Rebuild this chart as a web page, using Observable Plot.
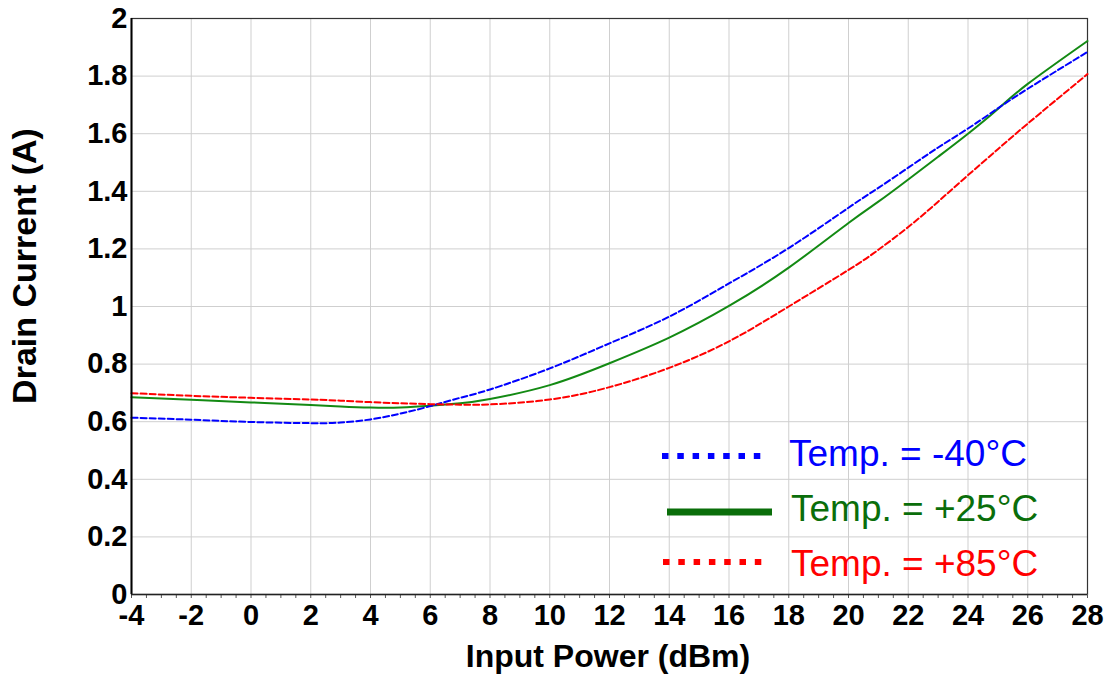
<!DOCTYPE html>
<html>
<head>
<meta charset="utf-8">
<script src="https://cdn.jsdelivr.net/npm/d3@7"></script>
<script src="https://cdn.jsdelivr.net/npm/@observablehq/plot@0.6"></script>
<style>
  html, body { margin: 0; padding: 0; background: #fff; }
  #wrap { position: relative; width: 1109px; height: 674px; font-family: "Liberation Sans", Arial, sans-serif; }
  #overlay { position: absolute; left: 0; top: 0; pointer-events: none; }
</style>
</head>
<body>
<div id="wrap"></div>
<script>
// ---- data ----
const inputPower = [-4, -2, 0, 2, 3, 4, 5, 6, 7, 8, 10, 12, 14, 16, 18, 20, 21, 22, 23, 24, 25, 26, 28];
const currentM40 = [0.614, 0.607, 0.599, 0.595, 0.597, 0.608, 0.628, 0.654, 0.683, 0.712, 0.785, 0.872, 0.965, 1.08, 1.203, 1.343, 1.412, 1.482, 1.552, 1.618, 1.688, 1.756, 1.884];
const currentP25 = [0.685, 0.676, 0.667, 0.658, 0.653, 0.649, 0.649, 0.655, 0.664, 0.679, 0.727, 0.803, 0.892, 1.002, 1.135, 1.29, 1.364, 1.441, 1.52, 1.6, 1.686, 1.773, 1.922];
const currentP85 = [0.699, 0.69, 0.683, 0.677, 0.673, 0.668, 0.664, 0.661, 0.659, 0.66, 0.677, 0.72, 0.787, 0.879, 1.0, 1.127, 1.197, 1.276, 1.364, 1.456, 1.546, 1.635, 1.807];
const seriesNames = ["Temp. = -40°C", "Temp. = +25°C", "Temp. = +85°C"];
const xTicks = [-4, -2, 0, 2, 4, 6, 8, 10, 12, 14, 16, 18, 20, 22, 24, 26, 28];
const yTicks = [0, 0.2, 0.4, 0.6, 0.8, 1, 1.2, 1.4, 1.6, 1.8, 2];
const xMinorTicks = d3.range(-4, 28.01, 0.5);
const xTitle = "Input Power (dBm)";
const yTitle = "Drain Current (A)";

// ---- build table ----
const allSeries = [currentM40, currentP25, currentP85];
const rows = [];
allSeries.forEach((vals, s) => vals.forEach((v, i) => rows.push({series: seriesNames[s], x: inputPower[i], y: v})));

const lineColor = {"Temp. = -40°C": "#0000ff", "Temp. = +25°C": "#138a13", "Temp. = +85°C": "#ff0000"};
const legendColor = ["#0000ff", "#0a6e0a", "#ff0000"];

const W = 1109, H = 674;
const chart = Plot.plot({
  width: W,
  height: H,
  marginLeft: 131,
  marginRight: 22,
  marginTop: 18,
  marginBottom: 80,
  style: {fontFamily: "'Liberation Sans', Arial, sans-serif", fontSize: "29px", fontWeight: "bold", color: "#000", background: "#fff"},
  x: {domain: [-4, 28], label: null},
  y: {domain: [0, 2], label: null},
  marks: [
    Plot.gridX(xTicks, {stroke: "#cfcfcf", strokeOpacity: 1, strokeWidth: 1}),
    Plot.gridY(yTicks, {stroke: "#cfcfcf", strokeOpacity: 1, strokeWidth: 1}),
    Plot.frame({stroke: "#333", strokeWidth: 1.2}),
    Plot.axisX(xMinorTicks, {tickSize: 4, tickFormat: () => "", stroke: "#555", label: null}),
    Plot.axisX(xTicks, {tickSize: 0, tickPadding: 10, tickFormat: d => String(d), fill: "#000", fontSize: 29, fontWeight: "bold", label: null}),
    Plot.axisY(yTicks, {tickSize: 0, tickPadding: 4, tickFormat: d => String(d), fill: "#000", fontSize: 29, fontWeight: "bold", label: null}),
    Plot.line(rows.filter(d => d.series === seriesNames[1]), {x: "x", y: "y", stroke: lineColor[seriesNames[1]], strokeWidth: 2, curve: "natural"}),
    Plot.line(rows.filter(d => d.series === seriesNames[0]), {x: "x", y: "y", stroke: lineColor[seriesNames[0]], strokeWidth: 2, strokeDasharray: "6,3", curve: "natural"}),
    Plot.line(rows.filter(d => d.series === seriesNames[2]), {x: "x", y: "y", stroke: lineColor[seriesNames[2]], strokeWidth: 2, strokeDasharray: "6,3", curve: "natural"}),
    Plot.ruleX([-4], {stroke: "#000", strokeWidth: 2}),
    Plot.ruleY([0], {stroke: "#222", strokeWidth: 1.5})
  ]
});
const wrap = document.getElementById("wrap");
wrap.appendChild(chart);

// ---- titles and legend overlay ----
const ns = "http://www.w3.org/2000/svg";
const ov = document.createElementNS(ns, "svg");
ov.setAttribute("id", "overlay");
ov.setAttribute("width", W);
ov.setAttribute("height", H);
ov.style.fontFamily = "'Liberation Sans', Arial, sans-serif";
wrap.appendChild(ov);

function addText(str, x, y, size, weight, fill, anchor, rotate) {
  const t = document.createElementNS(ns, "text");
  t.textContent = str;
  t.setAttribute("x", x);
  t.setAttribute("y", y);
  t.setAttribute("font-size", size);
  t.setAttribute("font-weight", weight);
  t.setAttribute("fill", fill);
  t.setAttribute("text-anchor", anchor);
  if (rotate) t.setAttribute("transform", `rotate(${rotate} ${x} ${y})`);
  ov.appendChild(t);
}
function addLine(x1, x2, y, color, width, dash) {
  const l = document.createElementNS(ns, "line");
  l.setAttribute("x1", x1); l.setAttribute("x2", x2);
  l.setAttribute("y1", y); l.setAttribute("y2", y);
  l.setAttribute("stroke", color);
  l.setAttribute("stroke-width", width);
  if (dash) l.setAttribute("stroke-dasharray", dash);
  ov.appendChild(l);
}
addText(xTitle, 608, 667, 32, "bold", "#000", "middle");
addText(yTitle, 36, 266, 34, "bold", "#000", "middle", -90);

// legend
const legendRows = [
  {y: 456, x1: 662, x2: 762, w: 6, dash: "6.5,8.8", tx: 789, ty: 466},
  {y: 512, x1: 667, x2: 772, w: 7, dash: null, tx: 791, ty: 521},
  {y: 562, x1: 663, x2: 763, w: 6, dash: "6.5,8.8", tx: 791, ty: 576}
];
legendRows.forEach((r, i) => {
  addLine(r.x1, r.x2, r.y, legendColor[i], r.w, r.dash);
  addText(seriesNames[i], r.tx, r.ty, 37, "normal", legendColor[i], "start");
});
</script>
</body>
</html>
